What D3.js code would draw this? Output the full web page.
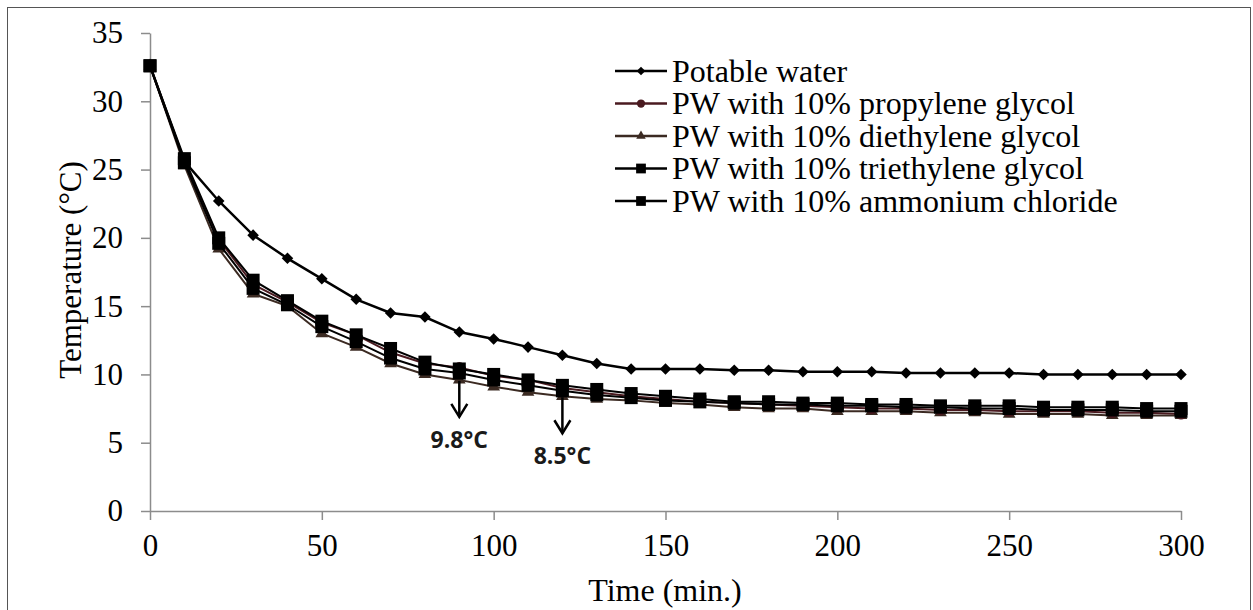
<!DOCTYPE html>
<html>
<head>
<meta charset="utf-8">
<script src="https://cdn.jsdelivr.net/npm/d3@7"></script>
<style>
  body { margin: 0; background: #fff; }
  svg { display: block; }
</style>
</head>
<body>
<div id="chart"></div>
<script>
// time in minutes
const time = [0, 10, 20, 30, 40, 50, 60, 70, 80, 90, 100, 110, 120, 130, 140, 150,
              160, 170, 180, 190, 200, 210, 220, 230, 240, 250, 260, 270, 280, 290, 300];

const potableWater = [32.6, 25.6, 22.7, 20.2, 18.5, 17.0, 15.5, 14.5, 14.2, 13.1, 12.6, 12.0, 11.4, 10.8, 10.4, 10.4,
                      10.4, 10.3, 10.3, 10.2, 10.2, 10.2, 10.1, 10.1, 10.1, 10.1, 10.0, 10.0, 10.0, 10.0, 10.0];
const propylene = [32.6, 25.6, 19.9, 16.6, 15.3, 13.8, 12.9, 11.6, 10.8, 10.5, 9.9, 9.6, 9.0, 8.7, 8.4, 8.2,
                   8.0, 7.9, 7.8, 7.7, 7.6, 7.5, 7.5, 7.4, 7.4, 7.3, 7.3, 7.3, 7.2, 7.2, 7.1];
const diethylene = [32.6, 25.3, 19.2, 15.9, 15.0, 13.0, 12.0, 10.8, 10.0, 9.6, 9.1, 8.7, 8.4, 8.2, 8.1, 7.9,
                    7.8, 7.6, 7.5, 7.5, 7.3, 7.3, 7.3, 7.2, 7.2, 7.1, 7.1, 7.1, 7.0, 7.0, 7.0];
const triethylene = [32.6, 25.8, 20.0, 16.9, 15.4, 13.9, 12.9, 11.9, 10.9, 10.4, 10.0, 9.6, 9.2, 8.9, 8.6, 8.4,
                     8.2, 8.0, 8.0, 7.9, 7.9, 7.8, 7.8, 7.7, 7.7, 7.7, 7.6, 7.6, 7.6, 7.5, 7.5];
const ammonium = [32.6, 25.5, 19.6, 16.3, 15.1, 13.5, 12.4, 11.2, 10.4, 10.1, 9.6, 9.2, 8.8, 8.5, 8.3, 8.1,
                  8.0, 7.9, 7.8, 7.8, 7.7, 7.7, 7.6, 7.6, 7.5, 7.5, 7.4, 7.4, 7.4, 7.3, 7.3];

const seriesNames = ["Potable water", "PW with 10% propylene glycol", "PW with 10% diethylene glycol",
                     "PW with 10% triethylene glycol", "PW with 10% ammonium chloride"];
const xTicks = [0, 50, 100, 150, 200, 250, 300];
const yTicks = [0, 5, 10, 15, 20, 25, 30, 35];

// arrows pointing at curve values
const notes = [{ t: 90, label: "9.8°C" }, { t: 120, label: "8.5°C" }];

const series = [
  { name: seriesNames[0], values: potableWater, color: "#000", marker: "diamond", width: 2.5 },
  { name: seriesNames[1], values: propylene, color: "#4a1a20", marker: "circle", width: 2 },
  { name: seriesNames[2], values: diethylene, color: "#3b2a22", marker: "triangle", width: 2 },
  { name: seriesNames[3], values: triethylene, color: "#000", marker: "square", width: 2 },
  { name: seriesNames[4], values: ammonium, color: "#000", marker: "square", width: 2 }
];

const W = 1253, H = 610;
const svg = d3.select("#chart").append("svg").attr("width", W).attr("height", H);

svg.append("rect").attr("x", 7.5).attr("y", 7.5).attr("width", 1243).attr("height", 620)
  .attr("fill", "none").attr("stroke", "#555").attr("stroke-width", 1);

const x = d3.scaleLinear().domain([0, 300]).range([150, 1181]);
const y = d3.scaleLinear().domain([0, 35]).range([511, 33]);

const serif = "Liberation Serif, Times New Roman, serif";

// axes
const xAxis = svg.append("g").attr("transform", "translate(0,511)")
  .call(d3.axisBottom(x).tickValues(xTicks).tickSize(9).tickPadding(14).tickSizeOuter(0));
const yAxis = svg.append("g").attr("transform", "translate(150,0)")
  .call(d3.axisLeft(y).tickValues(yTicks).tickSize(9).tickPadding(18).tickSizeOuter(0));
[xAxis, yAxis].forEach(g => {
  g.selectAll("path, line").attr("stroke", "#8c8c8c").attr("stroke-width", 1.5);
  g.selectAll("text").attr("font-family", serif).attr("font-size", 31).attr("fill", "#000");
});

svg.append("text").attr("x", 665).attr("y", 601).attr("text-anchor", "middle")
  .attr("font-family", serif).attr("font-size", 32).text("Time (min.)");
svg.append("text").attr("transform", "translate(81,270) rotate(-90)").attr("text-anchor", "middle")
  .attr("font-family", serif).attr("font-size", 31).text("Temperature (°C)");

function drawMarker(g, type, color) {
  if (type === "diamond") {
    g.append("path").attr("d", d3.symbol(d3.symbolDiamond2, 85)()).attr("fill", color);
  } else if (type === "circle") {
    g.append("circle").attr("r", 5.5).attr("fill", color);
  } else if (type === "triangle") {
    g.append("path").attr("d", d3.symbol(d3.symbolTriangle, 70)()).attr("fill", color);
  } else {
    g.append("rect").attr("x", -6.5).attr("y", -6.5).attr("width", 13).attr("height", 13).attr("fill", color);
  }
}

const line = d3.line().x(d => x(d[0])).y(d => y(d[1]));

// draw bottom series first so potable and squares stay on top
const order = [2, 1, 4, 3, 0];
order.forEach(i => {
  const s = series[i];
  const pts = time.map((t, k) => [t, s.values[k]]);
  const g = svg.append("g");
  g.append("path").datum(pts).attr("d", line).attr("fill", "none")
    .attr("stroke", s.color).attr("stroke-width", s.width);
  pts.forEach(p => {
    const m = g.append("g").attr("transform", `translate(${x(p[0])},${y(p[1])})`);
    drawMarker(m, s.marker, s.color);
  });
});

// legend
const legend = svg.append("g");
series.forEach((s, i) => {
  const cy = 71 + i * 32.5;
  const r = legend.append("g").attr("transform", `translate(0,${cy})`);
  r.append("line").attr("x1", 615).attr("x2", 667).attr("stroke", s.color).attr("stroke-width", 2.5);
  const m = r.append("g").attr("transform", "translate(641,0) scale(0.75)");
  drawMarker(m, s.marker, s.color);
  r.append("text").attr("x", 672).attr("y", 0).attr("dy", "0.33em")
    .style("font-family", serif).attr("font-size", 32).text(s.name);
});

// annotations
const lowest = diethylene;
notes.forEach(n => {
  const k = time.indexOf(n.t);
  const px = x(n.t);
  const y0 = y(lowest[k]) + 1;
  const y1 = y0 + 36;
  const g = svg.append("g").attr("stroke", "#000").attr("stroke-width", 2.5).attr("fill", "none");
  g.append("line").attr("x1", px).attr("x2", px).attr("y1", y0).attr("y2", y1);
  g.append("path").attr("d", `M${px - 8},${y1 - 13}L${px},${y1}L${px + 8},${y1 - 13}`);
  svg.append("text").attr("x", px).attr("y", y1 + 31).attr("text-anchor", "middle")
    .attr("font-family", "Open Sans, Noto Sans, sans-serif").attr("font-weight", "bold")
    .attr("font-size", 23).attr("fill", "#1a1a1a").text(n.label);
});
</script>
</body>
</html>
